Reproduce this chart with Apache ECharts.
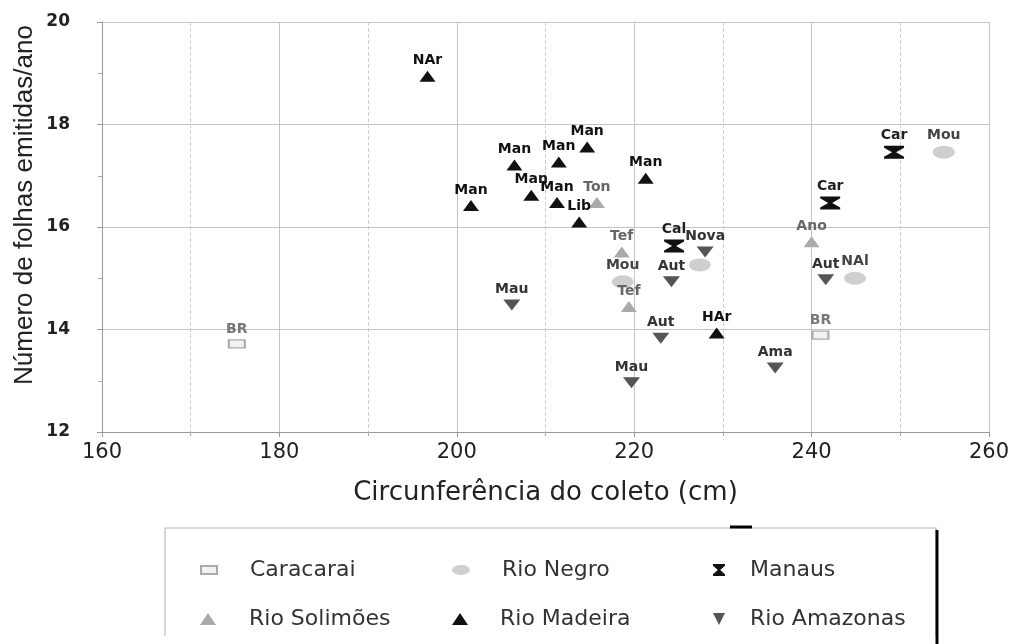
<!DOCTYPE html>
<html><head><meta charset="utf-8">
<script src="https://cdn.jsdelivr.net/npm/echarts@6/dist/echarts.min.js"></script>
<style>html,body{margin:0;padding:0;background:#fff}#c{width:1012px;height:644px}</style>
</head><body><div id="c"></div>
<script>
// ---- data: [circunferência (cm), nº folhas/ano, rótulo] ----
const caracarai = [[175.2,13.72,'BR'],[241.0,13.89,'BR']];
const rioNegro = [[254.9,17.46,'Mou'],[244.9,15.0,'NAl'],[227.4,15.26,''],[218.7,14.93,'Mou']];
const manaus = [[249.3,17.46,'Car'],[242.1,16.47,'Car'],[224.5,15.63,'Cal']];
const rioSolimoes = [[215.8,16.48,'Ton'],[218.6,15.51,'Tef'],[219.4,14.45,'Tef'],[240.0,15.71,'Ano']];
const rioMadeira = [[196.7,18.94,'NAr'],[214.7,17.56,'Man'],[211.5,17.27,'Man'],[206.5,17.21,'Man'],
  [221.3,16.95,'Man'],[208.4,16.62,'Man'],[201.6,16.42,'Man'],[211.3,16.48,'Man'],[213.8,16.10,'Lib'],[229.3,13.93,'HAr']];
const rioAmazonas = [[206.2,14.48,'Mau'],[219.7,12.96,'Mau'],[223.0,13.83,'Aut'],[224.2,14.93,'Aut'],
  [241.6,14.97,'Aut'],[235.9,13.25,'Ama'],[228.0,15.51,'Nova']];
const seriesNames = ['Caracarai','Rio Negro','Manaus','Rio Solimões','Rio Madeira','Rio Amazonas'];
const xTickValues = [160,180,200,220,240,260];
const yTickValues = [12,14,16,18,20];

const hourglass = 'path://M0,0 L10,0 L10,1.5 L6,5 L10,8.5 L10,10 L0,10 L0,8.5 L4,5 L0,1.5 Z';
const ellipse = 'path://M0,5 A9,5 0 1,0 18,5 A9,5 0 1,0 0,5 Z';
const F = 'DejaVu Sans';

function mk(name, data, symbol, size, color, border, labelColor){
  return {
    name, type:'scatter', data, symbol, symbolSize:size,
    encode:{x:0,y:1},
    itemStyle:{color, borderColor:border||color, borderWidth:border?1.5:0, opacity:1},
    label:{show:true, position:'top', distance:3, formatter:p=>p.value[2],
      fontFamily:F, fontWeight:'bold', fontSize:14, color:labelColor},
    emphasis:{disabled:true}
  };
}

const series = [
  mk(seriesNames[0], caracarai, 'rect', [16,8], '#f2f2f2', '#aaaaaa', '#777'),
  mk(seriesNames[1], rioNegro, ellipse, [22,13], '#cfcfcf', null, '#444'),
  mk(seriesNames[2], manaus, hourglass, [20,13], '#111', null, '#222'),
  mk(seriesNames[3], rioSolimoes, 'triangle', [16,11], '#aaaaaa', null, '#666'),
  mk(seriesNames[4], rioMadeira, 'triangle', [16,11], '#111', null, '#111'),
  mk(seriesNames[5], rioAmazonas, 'path://M0,0 L10,0 L5,10 Z', [17,11], '#555', null, '#333')
];

const cols = [[195,28],[447,27],[708,18]];
const rowsTop = [554,603];
const iconSizes = [[16,8],[18,13],[16,12],[16,12],[16,12],[16,12]];
const legends = seriesNames.map((n,i)=>{
  const c = cols[i%3], r = rowsTop[Math.floor(i/3)];
  return {data:[n], left:c[0], top:r, selectedMode:false, itemWidth:iconSizes[i][0], itemHeight:iconSizes[i][1],
    textStyle:{fontFamily:F, fontSize:22, color:'#333', padding:[0,0,0,c[1]]}};
});

const chart = echarts.init(document.getElementById('c'), null, {renderer:'canvas'});
chart.setOption({
  animation:false,
  backgroundColor:'#fff',
  grid:{left:102, right:21, top:22, bottom:212},
  xAxis:{type:'value', min:xTickValues[0], max:xTickValues[xTickValues.length-1], interval:20,
    name:'Circunferência do coleto (cm)', nameLocation:'middle', nameGap:48,
    nameTextStyle:{fontFamily:F, fontSize:26, color:'#222'},
    axisLine:{show:true, lineStyle:{color:'#999'}},
    axisTick:{show:true, length:5, lineStyle:{color:'#999'}},
    minorTick:{show:true, splitNumber:2, length:4, lineStyle:{color:'#aaa'}},
    splitLine:{show:true, lineStyle:{color:'#c4c4c4', width:1}},
    minorSplitLine:{show:true, lineStyle:{color:'#d0d0d0', type:'dashed', width:1}},
    axisLabel:{fontFamily:F, fontSize:21, color:'#222', margin:10}},
  yAxis:{type:'value', min:yTickValues[0], max:yTickValues[yTickValues.length-1], interval:2,
    axisLine:{show:true, lineStyle:{color:'#999'}},
    axisTick:{show:true, length:5, lineStyle:{color:'#999'}},
    minorTick:{show:true, splitNumber:2, length:4, lineStyle:{color:'#aaa'}},
    splitLine:{show:true, lineStyle:{color:'#c4c4c4', width:1}},
    axisLabel:{fontFamily:F, fontSize:17, fontWeight:'bold', color:'#222', margin:32}},
  legend:legends,
  graphic:[
    {type:'text', x:25, y:205, rotation:Math.PI/2, silent:true,
      style:{text:'Número de folhas emitidas/ano', fontFamily:'Liberation Sans', fontSize:26, fill:'#222', textAlign:'center', textVerticalAlign:'middle'}},
    {type:'polyline', shape:{points:[[165,636],[165,528],[936,528],[936,636]]}, style:{stroke:'#bbb', fill:null, lineWidth:1.2}, silent:true},
    {type:'line', shape:{x1:937,y1:530,x2:937,y2:644}, style:{stroke:'#000', lineWidth:3}, silent:true},
    {type:'line', shape:{x1:730,y1:527,x2:752,y2:527}, style:{stroke:'#000', lineWidth:3}, silent:true}
  ],
  series
});
</script></body></html>
